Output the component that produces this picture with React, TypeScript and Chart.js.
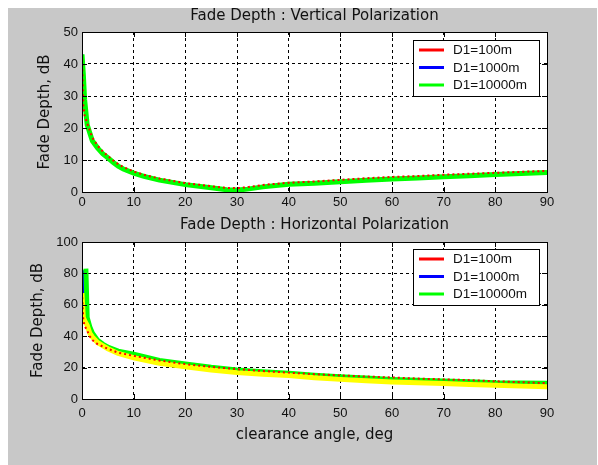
import React, { useEffect, useRef } from 'react';
import { Chart, registerables } from 'chart.js';

Chart.register(...registerables);

// ---------------- data ----------------
const xTickValues = [0, 10, 20, 30, 40, 50, 60, 70, 80, 90];
const vTickValues = [0, 10, 20, 30, 40, 50];
const hTickValues = [0, 20, 40, 60, 80, 100];
const seriesLabels = ['D1=100m', 'D1=1000m', 'D1=10000m'];

const titleV = 'Fade Depth : Vertical Polarization';
const titleH = 'Fade Depth : Horizontal Polarization';
const yTitle = 'Fade Depth, dB';
const xTitle = 'clearance angle, deg';

// Vertical polarization
const vAngles = [0, 0.25, 0.5, 1, 2, 3, 4, 5, 6, 7, 8, 10, 12, 15, 20, 25, 28, 30, 32, 35, 40, 45, 50, 55, 60, 65, 70, 75, 80, 85, 90];
const vD100 = [43, 27, 24, 21.5, 17, 14.5, 12.7, 11.3, 9.9, 8.7, 7.8, 6.4, 5.4, 4.2, 2.8, 1.8, 1.3, 1.2, 1.5, 2.2, 2.9, 3.3, 3.8, 4.3, 4.7, 5.0, 5.4, 5.7, 6.0, 6.3, 6.6];
const vD1000 = [43, 36, 28, 21, 16, 13.8, 12, 10.7, 9.3, 8.1, 7.2, 5.9, 4.9, 3.7, 2.3, 1.3, 0.7, 0.6, 0.9, 1.6, 2.4, 2.7, 3.2, 3.7, 4.1, 4.4, 4.8, 5.1, 5.5, 5.8, 6.1];
const vD10000 = [43, 37, 29, 21, 16, 13.8, 12, 10.7, 9.3, 8.1, 7.2, 5.9, 4.9, 3.7, 2.3, 1.3, 0.7, 0.6, 0.9, 1.6, 2.4, 2.7, 3.2, 3.7, 4.1, 4.4, 4.8, 5.1, 5.5, 5.8, 6.1];

// Horizontal polarization
const hAngles = [0, 0.25, 0.5, 0.75, 1, 1.5, 2, 3, 4, 5, 7, 10, 15, 20, 25, 30, 35, 40, 45, 50, 55, 60, 65, 70, 75, 80, 85, 90];
const hD100 = [68, 50, 47, 45, 43.5, 40, 37.5, 35, 33.5, 32, 29.5, 27.5, 24.5, 22.2, 20.5, 19, 17.8, 16.8, 15.8, 15.0, 14.3, 13.7, 13.0, 12.5, 12.0, 11.3, 10.7, 10.1];
const hD1000 = [null, 82, 58, 55, 50, 45, 41, 37, 34.5, 32.5, 30, 27.5, 24, 21.6, 19.5, 17.8, 16.8, 15.8, 14.6, 13.5, 12.6, 11.8, 11.3, 10.8, 10.3, 9.7, 9.4, 9.2];
const hD10000 = [null, null, null, 83, 52, 46, 42, 37.5, 35, 33, 30.5, 28.5, 24.5, 22.3, 20.2, 18.5, 17.4, 16.4, 15.2, 14.2, 13.3, 12.5, 12.0, 11.5, 11.0, 10.4, 10.2, 10.0];
const hExtra = [67.5, 52, 50, 48.5, 47, 42, 39.5, 36, 34, 32, 29, 26.3, 22.8, 20.6, 18.5, 16.8, 15.8, 14.9, 13.6, 12.5, 11.6, 10.8, 10.3, 9.8, 9.2, 8.7, 8.2, 7.8];

// ---------------- styling ----------------
const LABEL_FONT = "'DejaVu Sans', 'Liberation Sans', sans-serif";
const TICK_FONT = "'Liberation Sans', Arial, sans-serif";
const TEXT_COLOR = '#111111';

const toPoints = (xs: number[], ys: (number | null)[]) =>
  xs.map((x, i) => ({ x, y: ys[i] === null ? null : ys[i] }));

function makeDatasets(xs: number[], d100: (number | null)[], d1000: (number | null)[], d10000: (number | null)[], extra?: (number | null)[]) {
  const ds: any[] = [
    { label: seriesLabels[0], data: toPoints(xs, d100), borderColor: '#ff0000', borderWidth: 2, borderDash: [2, 3], order: 0, inLegend: true },
    { label: seriesLabels[1], data: toPoints(xs, d1000), borderColor: '#0000ff', borderWidth: 3, order: 3, inLegend: true },
    { label: seriesLabels[2], data: toPoints(xs, d10000), borderColor: '#00ff00', borderWidth: 5, order: 2, inLegend: true },
  ];
  if (extra) {
    ds.push({ label: 'extra', data: toPoints(xs, extra), borderColor: '#ffff00', borderWidth: 5, order: 1, inLegend: false });
  }
  return ds.map((d) => ({ ...d, pointRadius: 0, tension: 0, fill: false, clip: 0, spanGaps: false }));
}

const matlabAxes = {
  id: 'matlabAxes',
  beforeDraw(chart: any) {
    const { ctx, chartArea: a } = chart;
    ctx.save();
    ctx.fillStyle = '#ffffff';
    ctx.fillRect(a.left, a.top, a.right - a.left, a.bottom - a.top);
    ctx.restore();
  },
  afterDatasetsDraw(chart: any, _args: any, opts: any) {
    const { ctx, chartArea: a, scales } = chart;
    ctx.save();
    ctx.setLineDash([]);
    ctx.strokeStyle = '#000000';
    ctx.lineWidth = 1;
    // tick marks pointing inwards
    const tl = 5;
    ctx.beginPath();
    scales.x.ticks.forEach((t: any) => {
      const px = Math.round(scales.x.getPixelForValue(t.value)) + 0.5;
      ctx.moveTo(px, a.bottom);
      ctx.lineTo(px, a.bottom - tl);
      ctx.moveTo(px, a.top);
      ctx.lineTo(px, a.top + tl);
    });
    scales.y.ticks.forEach((t: any) => {
      const py = Math.round(scales.y.getPixelForValue(t.value)) + 0.5;
      ctx.moveTo(a.left, py);
      ctx.lineTo(a.left + tl, py);
      ctx.moveTo(a.right, py);
      ctx.lineTo(a.right - tl, py);
    });
    ctx.stroke();
    ctx.strokeRect(Math.round(a.left) + 0.5, Math.round(a.top) + 0.5, Math.round(a.right - a.left), Math.round(a.bottom - a.top));

    // legend box
    const items = chart.data.datasets.filter((d: any) => d.inLegend);
    const bw = 126;
    const bh = 56;
    const bx = Math.round(a.right) - 8 - bw;
    const by = Math.round(a.top) + (opts.legendOffset ?? 8);
    ctx.fillStyle = '#ffffff';
    ctx.fillRect(bx, by, bw, bh);
    ctx.strokeStyle = '#000000';
    ctx.strokeRect(bx + 0.5, by + 0.5, bw, bh);
    ctx.font = `13.5px ${TICK_FONT}`;
    ctx.textBaseline = 'middle';
    ctx.textAlign = 'left';
    items.forEach((d: any, i: number) => {
      const ry = by + 10 + i * 17.5;
      ctx.strokeStyle = d.borderColor;
      ctx.lineWidth = 3;
      ctx.beginPath();
      ctx.moveTo(bx + 6, ry);
      ctx.lineTo(bx + 31, ry);
      ctx.stroke();
      ctx.fillStyle = TEXT_COLOR;
      ctx.fillText(d.label, bx + 40, ry + 0.5);
    });
    ctx.restore();
  },
};

interface PanelCfg {
  title: string;
  titlePad: { top: number; bottom: number };
  yMax: number;
  yTicks: number[];
  yTitlePad: number;
  xAxisHeight: number;
  xTickPad: number;
  showXTitle: boolean;
  xTitlePadBottom: number;
  legendOffset: number;
  datasets: any[];
}

function buildConfig(c: PanelCfg): any {
  return {
    type: 'line',
    data: { datasets: c.datasets },
    options: {
      responsive: false,
      animation: false,
      devicePixelRatio: 1,
      events: [],
      layout: { padding: { left: 0, right: 50, top: 0, bottom: 0 } },
      plugins: {
        legend: { display: false },
        tooltip: { enabled: false },
        title: {
          display: true,
          text: c.title,
          fullSize: false,
          color: TEXT_COLOR,
          font: { family: LABEL_FONT, size: 15, weight: 'normal' },
          padding: c.titlePad,
        },
        matlabAxes: { legendOffset: c.legendOffset },
      },
      scales: {
        x: {
          type: 'linear',
          min: 0,
          max: 90,
          afterBuildTicks: (s: any) => {
            s.ticks = xTickValues.map((v) => ({ value: v }));
          },
          afterFit: (s: any) => {
            s.height = c.xAxisHeight;
          },
          ticks: {
            autoSkip: false,
            maxRotation: 0,
            padding: c.xTickPad,
            color: TEXT_COLOR,
            font: { family: TICK_FONT, size: 13 },
          },
          grid: { color: '#000000', lineWidth: 1, drawTicks: false },
          border: { display: false, dash: [3, 3] },
          title: {
            display: c.showXTitle,
            text: xTitle,
            color: TEXT_COLOR,
            font: { family: LABEL_FONT, size: 15 },
            padding: { top: 0, bottom: c.xTitlePadBottom },
          },
        },
        y: {
          type: 'linear',
          min: 0,
          max: c.yMax,
          afterBuildTicks: (s: any) => {
            s.ticks = c.yTicks.map((v) => ({ value: v }));
          },
          afterFit: (s: any) => {
            s.width = 74;
          },
          ticks: {
            padding: 4,
            color: TEXT_COLOR,
            font: { family: TICK_FONT, size: 13 },
          },
          grid: { color: '#000000', lineWidth: 1, drawTicks: false },
          border: { display: false, dash: [3, 3] },
          title: {
            display: true,
            text: yTitle,
            color: TEXT_COLOR,
            font: { family: LABEL_FONT, size: 15 },
            padding: { top: c.yTitlePad, bottom: 0 },
          },
        },
      },
    },
    plugins: [matlabAxes],
  };
}

function Panel({ top, height, cfg }: { top: number; height: number; cfg: PanelCfg }) {
  const ref = useRef<HTMLCanvasElement>(null);
  useEffect(() => {
    const chart = new Chart(ref.current as HTMLCanvasElement, buildConfig(cfg));
    return () => chart.destroy();
  }, []);
  return (
    <canvas
      ref={ref}
      width={589}
      height={height}
      style={{ position: 'absolute', left: 8, top, width: 589, height, display: 'block' }}
    />
  );
}

const topCfg: PanelCfg = {
  title: titleV,
  titlePad: { top: 7.5, bottom: 6.5 },
  yMax: 50,
  yTicks: vTickValues,
  yTitlePad: 28,
  xAxisHeight: 16,
  xTickPad: 2.5,
  showXTitle: false,
  xTitlePadBottom: 0,
  legendOffset: 8,
  datasets: makeDatasets(vAngles, vD100, vD1000, vD10000),
};

const bottomCfg: PanelCfg = {
  title: titleH,
  titlePad: { top: 7.8, bottom: 8.2 },
  yMax: 100,
  yTicks: hTickValues,
  yTitlePad: 21.3,
  xAxisHeight: 66,
  xTickPad: 6.5,
  showXTitle: true,
  xTitlePadBottom: 21,
  legendOffset: 7,
  datasets: makeDatasets(hAngles, hD100, hD1000, hD10000, hExtra),
};

export default function App() {
  return (
    <div style={{ position: 'absolute', left: 0, top: 0, width: 598, height: 465 }}>
      <div style={{ position: 'absolute', left: 8, top: 8, width: 589, height: 457, background: '#c8c8c8' }} />
      <Panel top={0} height={208} cfg={topCfg} />
      <Panel top={208} height={257} cfg={bottomCfg} />
    </div>
  );
}
